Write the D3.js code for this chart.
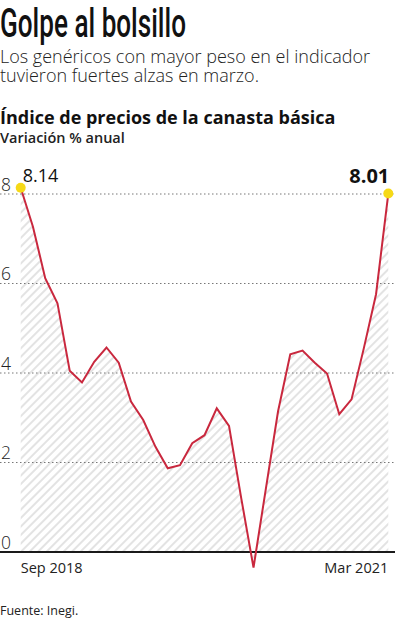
<!DOCTYPE html>
<html>
<head>
<meta charset="utf-8">
<script src="https://cdn.jsdelivr.net/npm/d3@7"></script>
<style>
  body { margin: 0; background: #fff; }
  svg { display: block; font-family: "Open Sans", sans-serif; }
</style>
</head>
<body>
<div class="fig"></div>
<script>
// monthly data, Sep 2018 .. Mar 2021
var months = ["2018-09","2018-10","2018-11","2018-12",
  "2019-01","2019-02","2019-03","2019-04","2019-05","2019-06","2019-07","2019-08","2019-09","2019-10","2019-11","2019-12",
  "2020-01","2020-02","2020-03","2020-04","2020-05","2020-06","2020-07","2020-08","2020-09","2020-10","2020-11","2020-12",
  "2021-01","2021-02","2021-03"];
var values = [8.14, 7.27, 6.12, 5.56,
  4.05, 3.79, 4.25, 4.57, 4.23, 3.36, 2.95, 2.35, 1.87, 1.94, 2.43, 2.61,
  3.21, 2.82, 1.2, -0.35, 1.4, 3.14, 4.42, 4.50, 4.23, 3.99, 3.08, 3.41,
  4.55, 5.76, 8.01];
var yTicks = [0, 2, 4, 6, 8];
var xLabels = ["Sep 2018", "Mar 2021"];

var data = months.map(function(m, i) { return { m: m, v: values[i] }; });

const svg = d3.select(".fig")
  .append("svg")
  .attr("width", 396)
  .attr("height", 620);

var x = d3.scalePoint()
  .domain(months)
  .range([20.7, 388.3]);
var y = d3.scaleLinear()
  .domain([0, 8])
  .range([552, 194]);

// hatch pattern
var pat = svg.append("defs").append("pattern")
  .attr("id", "hatch")
  .attr("patternUnits", "userSpaceOnUse")
  .attr("width", 6).attr("height", 6)
  .attr("patternTransform", "rotate(45)");
pat.append("line")
  .attr("x1", 3).attr("y1", 0).attr("x2", 3).attr("y2", 6)
  .attr("stroke", "#cbcbcb").attr("stroke-width", 1.1);

// titles
svg.append("text")
  .attr("x", 0).attr("y", 37)
  .attr("textLength", 186).attr("lengthAdjust", "spacingAndGlyphs")
  .style("font-family", "Roboto").style("font-weight", 500)
  .style("font-size", "40px").attr("fill", "#111")
  .text("Golpe al bolsillo");

var sub = svg.append("text")
  .style("font-size", "18px").style("font-weight", 300).attr("fill", "#222");
sub.append("tspan").attr("x", 0).attr("y", 63)
  .text("Los genéricos con mayor peso en el indicador");
sub.append("tspan").attr("x", 0).attr("y", 82)
  .text("tuvieron fuertes alzas en marzo.");

svg.append("text").attr("x", 0).attr("y", 124)
  .style("font-size", "18px").style("font-weight", 700).attr("fill", "#111")
  .text("Índice de precios de la canasta básica");
svg.append("text").attr("x", 0).attr("y", 143)
  .style("font-size", "14.5px").style("font-weight", 600).attr("fill", "#222")
  .text("Variación % anual");

// hatched area
var area = d3.area()
  .x(function(d) { return x(d.m); })
  .y0(y(0))
  .y1(function(d) { return y(d.v); });
svg.append("path")
  .datum(data)
  .attr("d", area)
  .attr("fill", "url(#hatch)");

// gridlines
svg.selectAll(".grid")
  .data(yTicks.filter(function(t) { return t > 0; }))
  .enter().append("line")
  .attr("x1", 0).attr("x2", 394)
  .attr("y1", function(d) { return y(d); })
  .attr("y2", function(d) { return y(d); })
  .attr("stroke", "#777").attr("stroke-width", 1)
  .attr("stroke-dasharray", "1.5,2.5");

svg.append("line")
  .attr("x1", 0).attr("x2", 395)
  .attr("y1", y(0)).attr("y2", y(0))
  .attr("stroke", "#1a1a1a").attr("stroke-width", 2);

svg.selectAll(".tick")
  .data(yTicks)
  .enter().append("text")
  .attr("x", 1)
  .attr("y", function(d) { return y(d) - 3.5; })
  .style("font-size", "17.5px").style("font-weight", 300).attr("fill", "#222")
  .text(function(d) { return d; });

// line
var line = d3.line()
  .x(function(d) { return x(d.m); })
  .y(function(d) { return y(d.v); });
svg.append("path")
  .datum(data)
  .attr("d", line)
  .attr("fill", "none")
  .attr("stroke", "#c9283e")
  .attr("stroke-width", 2)
  .attr("stroke-linejoin", "miter");

var ends = [data[0], data[data.length - 1]];
svg.selectAll(".dot")
  .data(ends)
  .enter().append("circle")
  .attr("cx", function(d) { return x(d.m); })
  .attr("cy", function(d) { return y(d.v); })
  .attr("r", 5)
  .attr("fill", "#f6d917");

svg.append("text")
  .attr("x", x(ends[0].m) + 2).attr("y", 182)
  .style("font-size", "18px").style("font-weight", 400).attr("fill", "#111")
  .text(ends[0].v.toFixed(2));
svg.append("text")
  .attr("x", x(ends[1].m) + 1).attr("y", 182.5)
  .attr("text-anchor", "end")
  .style("font-size", "20px").style("font-weight", 700).attr("fill", "#111")
  .text(ends[1].v.toFixed(2));

// x labels
svg.append("text")
  .attr("x", x(months[0])).attr("y", 573)
  .style("font-size", "14.5px").style("font-weight", 400).attr("fill", "#222")
  .text(xLabels[0]);
svg.append("text")
  .attr("x", x(months[months.length - 1])).attr("y", 573)
  .attr("text-anchor", "end")
  .style("font-size", "14.5px").style("font-weight", 400).attr("fill", "#222")
  .text(xLabels[1]);

svg.append("text")
  .attr("x", 0).attr("y", 615)
  .style("font-size", "12.5px").attr("fill", "#222")
  .text("Fuente: Inegi.");
</script>
</body>
</html>
